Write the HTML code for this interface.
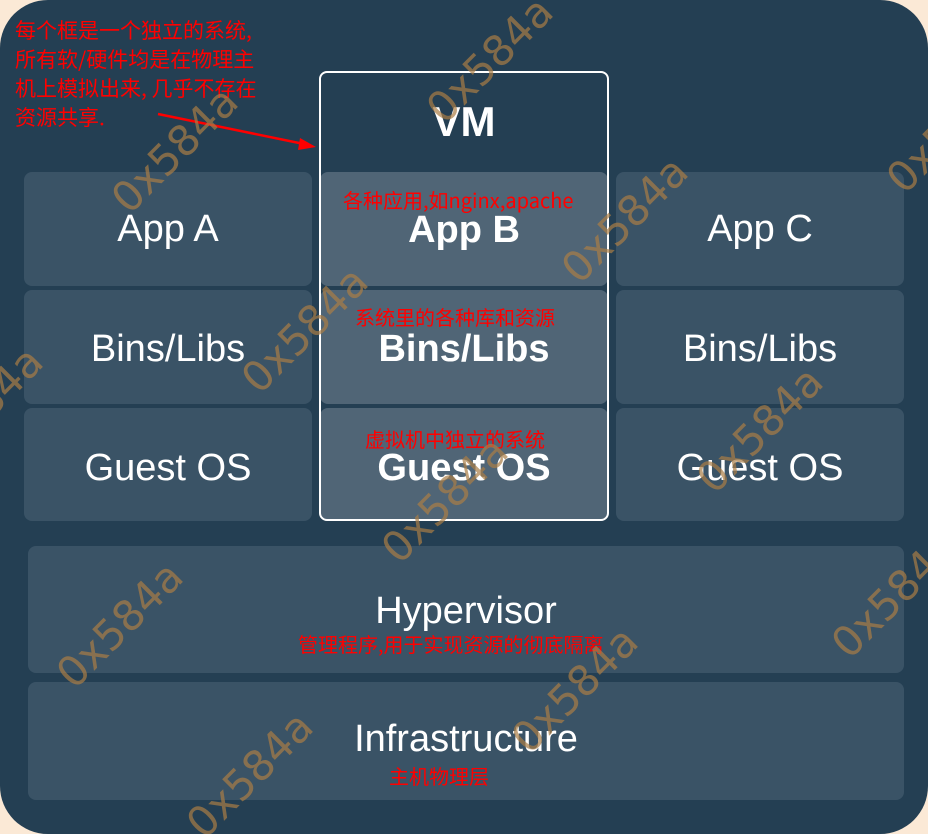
<!DOCTYPE html>
<html style="overflow:hidden;width:928px;height:834px"><head><meta charset="utf-8"><style>
body{margin:0;width:928px;height:834px;background:#fbe9d6;overflow:hidden;position:relative;font-family:"Liberation Sans","DejaVu Sans","Noto Sans CJK SC",sans-serif}
.bg{position:absolute;left:0;top:0;width:928px;height:834px;background:#243f53;border-radius:48px}
.b{position:absolute;background:#3a5366;border-radius:8px;color:#fff;font-size:38px;display:flex;align-items:center;justify-content:center}
.m{background:#506576;font-weight:bold}
.r{position:absolute;color:#ff0000;font-family:"Noto Sans CJK SC",sans-serif;font-size:20px;white-space:nowrap;line-height:1}
.w{position:absolute;color:rgba(170,125,70,0.7);font-family:"DejaVu Sans",sans-serif;font-size:42px;transform:rotate(-45deg);transform-origin:center;white-space:nowrap;width:160px;text-align:center;line-height:40px}
</style></head><body>
<div class="bg"></div>
<div class="b" style="left:24px;top:172px;width:288px;height:114px">App A</div>
<div class="b" style="left:24px;top:290px;width:288px;height:114px;padding-top:4px;box-sizing:border-box">Bins/Libs</div>
<div class="b" style="left:24px;top:408px;width:288px;height:113px;padding-top:8px;box-sizing:border-box">Guest OS</div>
<div class="b m" style="left:320px;top:172px;width:288px;height:114px;padding-top:2px;box-sizing:border-box">App B</div>
<div class="b m" style="left:320px;top:290px;width:288px;height:114px;padding-top:4px;box-sizing:border-box">Bins/Libs</div>
<div class="b m" style="left:320px;top:408px;width:288px;height:113px;padding-top:8px;box-sizing:border-box">Guest OS</div>
<div class="b" style="left:616px;top:172px;width:288px;height:114px">App C</div>
<div class="b" style="left:616px;top:290px;width:288px;height:114px;padding-top:4px;box-sizing:border-box">Bins/Libs</div>
<div class="b" style="left:616px;top:408px;width:288px;height:113px;padding-top:8px;box-sizing:border-box">Guest OS</div>
<div class="b" style="left:28px;top:546px;width:876px;height:127px"><span style="position:relative;top:2px">Hypervisor</span></div>
<div class="b" style="left:28px;top:682px;width:876px;height:118px"><span style="position:relative;top:-2px">Infrastructure</span></div>
<div style="position:absolute;left:319px;top:71px;width:286px;height:446px;border:2px solid #fff;border-radius:8px"></div>
<div style="position:absolute;left:321px;top:98px;width:286px;text-align:center;color:#fff;font-weight:bold;font-size:42px">VM</div>
<div class="r" style="left:343px;top:190px">各种应用,如nginx,apache</div>
<div class="r" style="left:355px;top:307px">系统里的各种库和资源</div>
<div class="r" style="left:365px;top:429px">虚拟机中独立的系统</div>
<div class="r" style="left:298px;top:634px">管理程序,用于实现资源的彻底隔离</div>
<div class="r" style="left:389px;top:766px">主机物理层</div>
<div class="r" style="left:15px;top:16px;line-height:29px;font-size:21px">每个框是一个独立的系统,<br>所有软/硬件均是在物理主<br>机上模拟出来, 几乎不存在<br>资源共享.</div>
<svg style="position:absolute;left:0;top:0" width="928" height="834"><line x1="158" y1="114" x2="304" y2="144" stroke="#f00" stroke-width="2.5"/><polygon points="316,147 300,138 298,150" fill="#f00"/></svg>
<div class="w" style="left:410px;top:40px">0x584a</div>
<div class="w" style="left:95px;top:130px">0x584a</div>
<div class="w" style="left:545px;top:200px">0x584a</div>
<div class="w" style="left:225px;top:310px">0x584a</div>
<div class="w" style="left:-100px;top:390px">0x584a</div>
<div class="w" style="left:680px;top:410px">0x584a</div>
<div class="w" style="left:365px;top:480px">0x584a</div>
<div class="w" style="left:40px;top:605px">0x584a</div>
<div class="w" style="left:815px;top:575px">0x584a</div>
<div class="w" style="left:495px;top:670px">0x584a</div>
<div class="w" style="left:170px;top:755px">0x584a</div>
<div class="w" style="left:870px;top:110px">0x584a</div>
</body></html>
